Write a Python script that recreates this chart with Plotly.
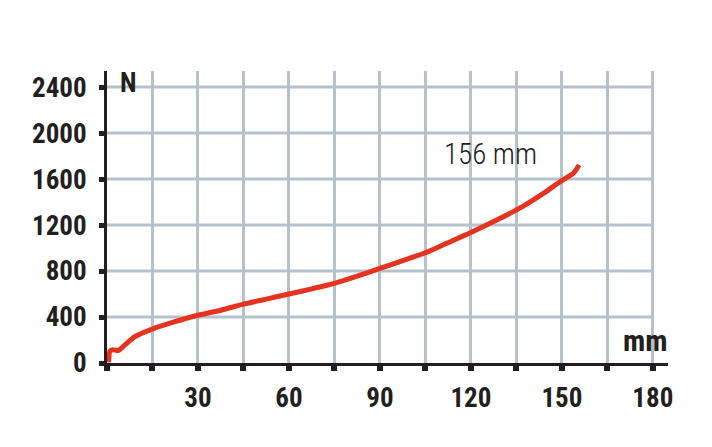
import plotly.graph_objects as go

# travel (mm) vs force (N)
travel_mm = [0.5, 1, 2, 3.7, 5.9, 9.2, 14.7, 22.4, 29, 37.8, 45, 52.5, 60, 67.5,
             75, 82.5, 90, 97.5, 105, 112, 120, 128.5, 137, 143.9, 149.4, 153.8,
             155.7]
force_n = [5, 105, 115, 108, 157, 229, 293, 359, 409, 461, 512, 556, 600, 645,
           693, 755, 823, 890, 959, 1041, 1135, 1243, 1360, 1475, 1577, 1650,
           1722]

x_ticks = [30, 60, 90, 120, 150, 180]
y_ticks = [0, 400, 800, 1200, 1600, 2000, 2400]
end_label = "156 mm"

ink = "#231f20"
grid = "#b5c1cb"
cond = "Roboto Condensed, Open Sans Condensed, sans-serif"
bold_font = dict(family=cond, size=27, color=ink, weight=700)

fig = go.Figure()
fig.add_trace(go.Scatter(
    x=travel_mm, y=force_n, mode="lines",
    line=dict(color="#e6321f", width=5, shape="spline", smoothing=0.6),
    hoverinfo="skip",
))

# horizontal grid stops at the last vertical line (180 mm)
for v in y_ticks[1:]:
    fig.add_shape(type="line", xref="x", yref="y", x0=0, x1=180, y0=v, y1=v,
                  line=dict(color=grid, width=3), layer="below")

fig.add_annotation(x=7.1, y=2440, xref="x", yref="y", text="N",
                   showarrow=False, xanchor="center", yanchor="middle",
                   font=dict(bold_font, size=27))
fig.add_annotation(x=177.7, y=200, xref="x", yref="y", text="mm",
                   showarrow=False, xanchor="center", yanchor="middle",
                   font=dict(bold_font, size=30))
fig.add_annotation(x=126.3, y=1817, xref="x", yref="y", text=end_label,
                   showarrow=False, xanchor="center", yanchor="middle",
                   font=dict(family=cond, size=29, color=ink, weight=300))

# page body adds ~8px offset, so margins are nudged to compensate
fig.update_layout(
    width=712, height=447,
    margin=dict(l=99, r=52, t=63, b=92),
    paper_bgcolor="white", plot_bgcolor="white",
    showlegend=False,
    xaxis=dict(
        range=[0, 185], tickvals=x_ticks, ticktext=[str(v) for v in x_ticks],
        showgrid=True, gridcolor=grid, gridwidth=3,
        minor=dict(dtick=15, tick0=0, showgrid=True, gridcolor=grid, gridwidth=3,
                   ticks="outside", ticklen=5, tickwidth=6, tickcolor=ink),
        ticks="outside", ticklen=5, tickwidth=6, tickcolor=ink,
        showline=True, linecolor=ink, linewidth=3,
        zeroline=False, tickfont=bold_font, ticklabelstandoff=4,
        automargin=False, fixedrange=True,
    ),
    yaxis=dict(
        range=[0, 2540], tickvals=y_ticks, ticktext=[str(v) for v in y_ticks],
        showgrid=False,
        ticks="outside", ticklen=5, tickwidth=5, tickcolor=ink,
        showline=True, linecolor=ink, linewidth=3,
        zeroline=False, tickfont=bold_font, ticklabelstandoff=7,
        automargin=False, fixedrange=True,
    ),
)

fig.write_html("out.html")
